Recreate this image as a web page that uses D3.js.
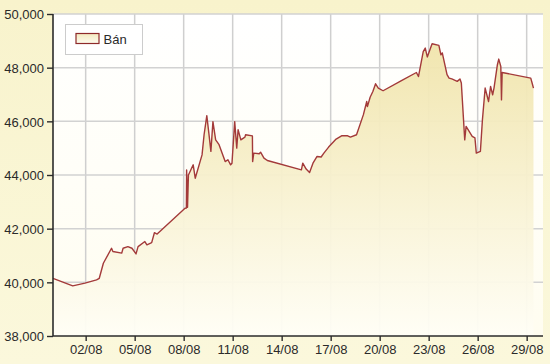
<!DOCTYPE html>
<html>
<head>
<meta charset="utf-8">
<script src="https://cdn.jsdelivr.net/npm/d3@7"></script>
<style>
  body { margin: 0; background: #f9f6d3; }
  svg { display: block; }
  text { font-family: "Liberation Sans", Arial, sans-serif; }
</style>
</head>
<body>
<svg id="chart" width="550" height="364"></svg>
<script>
// gold sell price ("Bán"), thousand VND per tael
var times = [
  "2011-07-31 00:00", "2011-08-01 05:00", "2011-08-01 23:00", "2011-08-02 16:00", "2011-08-02 20:00",
  "2011-08-03 02:00", "2011-08-03 14:00", "2011-08-03 16:00", "2011-08-04 05:00", "2011-08-04 07:00",
  "2011-08-04 14:00", "2011-08-04 20:00", "2011-08-05 02:00", "2011-08-05 05:00", "2011-08-05 15:00",
  "2011-08-05 18:00", "2011-08-06 01:00", "2011-08-06 05:00", "2011-08-06 09:00", "2011-08-08 02:00",
  "2011-08-08 04:00", "2011-08-08 04:20", "2011-08-08 05:40", "2011-08-08 07:00", "2011-08-08 14:00",
  "2011-08-08 17:00", "2011-08-09 03:00", "2011-08-09 06:00", "2011-08-09 10:00", "2011-08-09 13:00",
  "2011-08-09 16:00", "2011-08-09 19:00", "2011-08-09 23:00", "2011-08-10 04:00", "2011-08-10 13:00",
  "2011-08-10 17:00", "2011-08-10 21:00", "2011-08-10 23:00", "2011-08-11 03:00", "2011-08-11 06:00",
  "2011-08-11 08:00", "2011-08-11 12:00", "2011-08-11 18:00", "2011-08-11 19:00", "2011-08-12 05:00",
  "2011-08-12 05:20", "2011-08-12 07:00", "2011-08-12 15:00", "2011-08-12 17:00", "2011-08-12 22:00",
  "2011-08-13 03:00", "2011-08-15 05:00", "2011-08-15 07:00", "2011-08-15 12:00", "2011-08-15 17:00",
  "2011-08-15 22:00", "2011-08-16 04:00", "2011-08-16 10:00", "2011-08-16 14:00", "2011-08-16 21:00",
  "2011-08-17 08:00", "2011-08-17 16:00", "2011-08-18 01:00", "2011-08-18 05:00", "2011-08-18 14:00",
  "2011-08-19 00:00", "2011-08-19 05:00", "2011-08-19 06:00", "2011-08-19 10:00", "2011-08-19 14:00",
  "2011-08-19 18:00", "2011-08-19 22:00", "2011-08-20 05:00", "2011-08-21 08:00", "2011-08-22 06:00",
  "2011-08-22 09:00", "2011-08-22 16:00", "2011-08-22 19:00", "2011-08-22 22:00", "2011-08-23 05:00",
  "2011-08-23 15:00", "2011-08-23 18:00", "2011-08-23 20:00", "2011-08-24 03:00", "2011-08-24 06:00",
  "2011-08-24 10:00", "2011-08-24 18:00", "2011-08-24 22:00", "2011-08-25 00:00", "2011-08-25 05:00",
  "2011-08-25 07:00", "2011-08-25 16:00", "2011-08-25 20:00", "2011-08-25 22:00", "2011-08-26 04:00",
  "2011-08-26 07:00", "2011-08-26 11:00", "2011-08-26 16:00", "2011-08-26 19:00", "2011-08-26 22:00",
  "2011-08-27 00:00", "2011-08-27 05:00", "2011-08-27 07:00", "2011-08-27 10:00", "2011-08-27 11:00",
  "2011-08-27 12:00", "2011-08-29 06:00", "2011-08-29 08:00", "2011-08-29 10:00"
];
var sellValues = [
  40150, 39870, 39970, 40090, 40150,
  40710, 41270, 41150, 41090, 41270,
  41330, 41270, 41060, 41330, 41520,
  41400, 41480, 41850, 41800, 42760,
  42770, 44190, 42800, 44000, 44380,
  43880, 44750, 45500, 46210, 45560,
  44880, 45990, 45310, 45130, 44500,
  44570, 44380, 44440, 45990, 45000,
  45690, 45310, 45410, 45500, 45460,
  44500, 44815, 44790, 44850, 44630,
  44540, 44190, 44440, 44220, 44090,
  44440, 44690, 44670, 44815, 45040,
  45340, 45460, 45460, 45410, 45500,
  46240, 46740, 46550, 46900, 47110,
  47400, 47240, 47140, 47520, 47820,
  47670, 48600, 48730, 48400, 48890,
  48830, 48480, 48550, 47740, 47610,
  47580, 47490, 47580, 47430, 45310,
  45810, 45440, 45380, 44815, 44880,
  46060, 47240, 46740, 47300, 46990,
  47240, 48110, 48320, 48050, 46800,
  47820, 47610, 47430, 47240
];
var xTickLabels = ["02/08", "05/08", "08/08", "11/08", "14/08", "17/08", "20/08", "23/08", "26/08", "29/08"];
var yTicks = [38000, 40000, 42000, 44000, 46000, 48000, 50000];
var seriesName = "Bán";

var parseTime = d3.timeParse("%Y-%m-%d %H:%M");
var parseTick = d3.timeParse("%d/%m/%Y");
var data = times.map(function (t, i) { return { date: parseTime(t), value: sellValues[i] }; });
var tickDates = xTickLabels.map(function (l) { return parseTick(l + "/2011"); });

var margin = { top: 14, right: 7, bottom: 28, left: 53 };
var width = 550 - margin.left - margin.right,
    height = 364 - margin.top - margin.bottom;

var svg = d3.select("#chart");

// gradients
var defs = svg.append("defs");
var bgGrad = defs.append("linearGradient").attr("id", "bg-grad")
    .attr("x1", 0).attr("y1", 0).attr("x2", 0).attr("y2", 1);
bgGrad.append("stop").attr("offset", "0%").attr("stop-color", "#f8f3cc");
bgGrad.append("stop").attr("offset", "100%").attr("stop-color", "#fbf8dc");

var areaGrad = defs.append("linearGradient").attr("id", "area-grad")
    .attr("gradientUnits", "userSpaceOnUse")
    .attr("x1", 0).attr("y1", 0).attr("x2", 0).attr("y2", height);
areaGrad.append("stop").attr("offset", "0%").attr("stop-color", "#efe2a4");
areaGrad.append("stop").attr("offset", "100%").attr("stop-color", "#fffef6");

var plotGrad = defs.append("linearGradient").attr("id", "plot-grad")
    .attr("x1", 0).attr("y1", 0).attr("x2", 0).attr("y2", 1);
plotGrad.append("stop").attr("offset", "0%").attr("stop-color", "#ffffff");
plotGrad.append("stop").attr("offset", "100%").attr("stop-color", "#fffdf0");

var swatchGrad = defs.append("linearGradient").attr("id", "swatch-grad")
    .attr("x1", 0).attr("y1", 0).attr("x2", 0).attr("y2", 1);
swatchGrad.append("stop").attr("offset", "0%").attr("stop-color", "#f3eac0");
swatchGrad.append("stop").attr("offset", "100%").attr("stop-color", "#fdfbee");

svg.append("rect").attr("width", 550).attr("height", 364).attr("fill", "url(#bg-grad)");

var g = svg.append("g").attr("transform", "translate(" + margin.left + "," + margin.top + ")");

var x = d3.scaleTime()
    .domain([parseTime("2011-07-31 00:00"), parseTime("2011-08-30 00:00")])
    .range([0, width]);
var y = d3.scaleLinear().domain([38000, 50000]).range([height, 0]);

g.append("rect").attr("width", width).attr("height", height).attr("fill", "url(#plot-grad)");

// grid
g.append("g").selectAll("line.vg")
    .data(tickDates).enter().append("line")
    .attr("x1", function (d) { return x(d); }).attr("x2", function (d) { return x(d); })
    .attr("y1", 0).attr("y2", height)
    .attr("stroke", "#cfcfcf").attr("stroke-width", 1.5);
g.append("g").selectAll("line.hg")
    .data(yTicks.slice(1)).enter().append("line")
    .attr("x1", 0).attr("x2", width)
    .attr("y1", function (d) { return y(d); }).attr("y2", function (d) { return y(d); })
    .attr("stroke", "#d2d2d2").attr("stroke-width", 1.5);

// area + line
var area = d3.area()
    .x(function (d) { return x(d.date); })
    .y0(height)
    .y1(function (d) { return y(d.value); });
var line = d3.line()
    .x(function (d) { return x(d.date); })
    .y(function (d) { return y(d.value); });

g.append("path").datum(data).attr("d", area).attr("fill", "url(#area-grad)").attr("fill-opacity", 0.95);
g.append("path").datum(data).attr("d", line)
    .attr("fill", "none").attr("stroke", "#a33a3a").attr("stroke-width", 1.4)
    .attr("stroke-linejoin", "round");

// axes
var xAxis = g.append("g").attr("transform", "translate(0," + height + ")")
    .call(d3.axisBottom(x).tickValues(tickDates).tickSize(5).tickPadding(4)
      .tickFormat(function (d, i) { return xTickLabels[i]; }));
var yAxis = g.append("g")
    .call(d3.axisLeft(y).tickValues(yTicks).tickSize(6).tickPadding(3)
      .tickFormat(d3.format(",")));

[xAxis, yAxis].forEach(function (a) {
  a.select(".domain").attr("stroke", "#2b2b2b").attr("stroke-width", 1.6);
  a.selectAll(".tick line").attr("stroke", "#2b2b2b").attr("stroke-width", 1.4);
  a.selectAll("text").attr("fill", "#2a2a2a").style("font-size", "13px")
    .style("font-family", "'Liberation Sans', Arial, sans-serif");
});
xAxis.select(".domain").attr("d", "M0,0H" + width);
yAxis.select(".domain").attr("d", "M0,0V" + height);
yAxis.selectAll("text").attr("dy", "0.36em");

// legend
var legend = svg.append("g").attr("transform", "translate(65.5,24.5)");
legend.append("rect").attr("width", 77).attr("height", 30)
    .attr("fill", "#ffffff").attr("stroke", "#cccccc");
legend.append("rect").attr("x", 10.5).attr("y", 9).attr("width", 23).attr("height", 10)
    .attr("fill", "url(#swatch-grad)").attr("stroke", "#8e2a2a").attr("stroke-width", 1.2);
legend.append("text").attr("x", 38).attr("y", 19)
    .attr("fill", "#2a2a2a").style("font-size", "13px").text(seriesName);
</script>
</body>
</html>
